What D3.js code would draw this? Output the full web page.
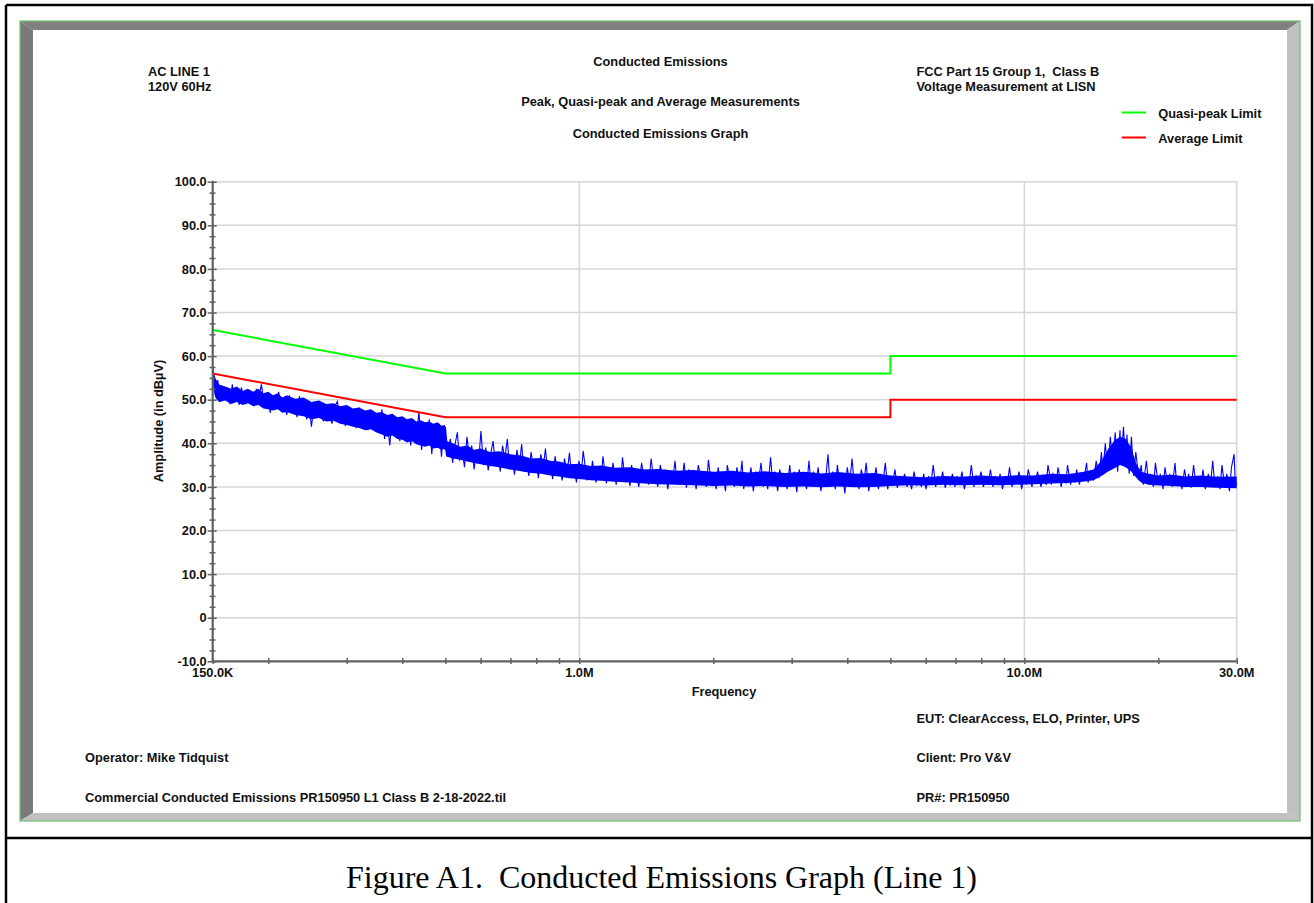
<!DOCTYPE html>
<html><head><meta charset="utf-8">
<script src="https://cdn.jsdelivr.net/npm/d3@7"></script>
<style>
html,body{margin:0;padding:0;background:#fff;}
svg{display:block;}
.lbl{font-family:"Liberation Sans",Arial,sans-serif;font-weight:bold;font-size:12.8px;fill:#111;}
</style></head><body>
<svg id="chart" width="1314" height="903"></svg>
<script>
// ---------------- data ----------------
const xTickValues = [0.15, 1, 10, 30];            // MHz
const xTickLabels = ["150.0K", "1.0M", "10.0M", "30.0M"];
const xMinorTicks = [0.2, 0.3, 0.4, 0.5, 0.6, 0.7, 0.8, 0.9, 2, 3, 4, 5, 6, 7, 8, 9, 20];
const yTickValues = [-10, 0, 10, 20, 30, 40, 50, 60, 70, 80, 90, 100];
const yTickLabels = ["-10.0", "0", "10.0", "20.0", "30.0", "40.0", "50.0", "60.0", "70.0", "80.0", "90.0", "100.0"];
const xGridValues = [1, 10, 30];

// limits (dBµV)
const limitFreq = [0.15, 0.5, 5, 5, 30];
const quasiPeakLimit = [66, 56, 56, 60, 60];
const averageLimit = [56, 46, 46, 50, 50];

// dense core of the peak scan: [MHz, low dB, high dB]
const scanCore = [
  [0.150, 54, 57.5], [0.152, 50.5, 55], [0.155, 49.5, 53.5], [0.16, 49.8, 53], [0.165, 49, 52.5],
  [0.17, 49.5, 53], [0.175, 48.8, 52], [0.18, 49.2, 52.5], [0.185, 48.5, 51.8], [0.19, 48.8, 52.5],
  [0.195, 48, 51.5], [0.20, 47.8, 51.8], [0.205, 47.5, 51], [0.21, 47.8, 51.5], [0.215, 47, 50.5],
  [0.22, 47.2, 51], [0.23, 46.5, 50.2], [0.24, 46.2, 50.5], [0.25, 45.5, 49.5], [0.26, 45.8, 49.8],
  [0.27, 45, 49], [0.28, 45.2, 49.2], [0.29, 44.5, 48.5], [0.30, 44.2, 48.8], [0.31, 43.8, 48],
  [0.32, 43.5, 48.2], [0.33, 43, 47.5], [0.34, 43.2, 47.8], [0.35, 42.5, 47], [0.36, 42, 47.2],
  [0.37, 41.5, 46.5], [0.38, 41.8, 46.8], [0.39, 41, 46], [0.40, 40.8, 46.2], [0.41, 40.2, 45.5],
  [0.42, 40.5, 45.8], [0.43, 39.8, 45], [0.44, 39.5, 45.3], [0.45, 39.2, 44.8], [0.46, 39.5, 45],
  [0.47, 38.8, 44.5], [0.48, 39, 44.8], [0.49, 38.5, 44], [0.499, 38.8, 44.2],
  [0.502, 37, 40.5], [0.52, 36.5, 40], [0.54, 36.2, 39.2], [0.56, 35.8, 39.5], [0.58, 35.5, 38.5],
  [0.60, 35.2, 38.8], [0.63, 34.8, 38], [0.66, 34.5, 38.2], [0.70, 34, 37.5], [0.74, 33.6, 37.2],
  [0.78, 33.2, 36.5], [0.82, 33, 36.6], [0.86, 32.6, 36], [0.90, 32.4, 35.8], [0.95, 32, 35.2],
  [1.0, 31.8, 35.3], [1.06, 31.5, 34.8], [1.12, 31.4, 34.9], [1.2, 31.2, 34.4], [1.3, 31, 34.5],
  [1.4, 30.8, 34], [1.5, 30.6, 34.1], [1.65, 30.5, 33.7], [1.8, 30.4, 33.9], [2.0, 30.2, 33.5],
  [2.2, 30.3, 33.7], [2.4, 30.1, 33.3], [2.6, 30.2, 33.6], [2.9, 30, 33.2], [3.2, 30.1, 33.5],
  [3.5, 29.9, 33.1], [3.8, 30.1, 33.4], [4.2, 29.9, 33], [4.6, 30, 33.2], [5.0, 30.2, 32.6],
  [5.5, 30.4, 32.4], [6.0, 30.3, 32.2], [6.6, 30.5, 32.5], [7.2, 30.4, 32.3], [8.0, 30.5, 32.6],
  [8.8, 30.4, 32.4], [9.6, 30.5, 32.7], [10.5, 30.6, 32.6], [11.5, 30.8, 33], [12.5, 30.9, 32.9],
  [13.5, 31.2, 33.4], [14.3, 31.5, 34], [14.9, 32.5, 36], [15.4, 33.5, 38.5], [15.9, 34.2, 40.5],
  [16.4, 35, 41.5], [16.9, 34.5, 41], [17.4, 33.5, 39], [17.8, 32.2, 35.5], [18.3, 31, 33.5],
  [19, 30.5, 33], [20, 30.3, 32.6], [21.5, 30.2, 32.8], [23, 30, 32.4], [25, 30, 32.6],
  [27, 29.8, 32.3], [30, 29.7, 32.4]];

// peak scan trace 150 kHz - 500 kHz: [MHz, dB]
const scanLow = [
  [0.150, 57.8], [0.152, 51], [0.154, 54.5], [0.156, 49.5], [0.158, 53], [0.160, 50.5], [0.162, 52.5],
  [0.164, 49], [0.166, 53.5], [0.168, 50], [0.170, 51.5], [0.172, 48.8], [0.174, 52.8], [0.176, 50.5],
  [0.178, 49.2], [0.180, 52], [0.182, 49.5], [0.184, 51.5], [0.186, 48.5], [0.188, 52.5], [0.190, 50],
  [0.193, 53.5], [0.196, 48.5], [0.199, 51.5], [0.202, 47], [0.205, 50.5], [0.208, 48], [0.211, 51.8],
  [0.214, 47.5], [0.217, 50], [0.220, 46.5], [0.223, 51], [0.226, 48], [0.229, 49.5], [0.232, 46],
  [0.235, 50.8], [0.238, 47.5], [0.241, 49], [0.244, 45.5], [0.247, 48.5], [0.250, 43.8], [0.254, 49.5],
  [0.258, 46], [0.262, 48.5], [0.266, 45], [0.270, 49], [0.274, 46.5], [0.278, 44.5], [0.282, 48.5],
  [0.286, 49.6], [0.290, 45], [0.294, 47.5], [0.298, 44], [0.302, 48], [0.306, 45.5], [0.310, 47],
  [0.315, 43.5], [0.320, 48.2], [0.325, 44.5], [0.330, 46.5], [0.335, 43], [0.340, 47.5], [0.345, 44],
  [0.350, 46], [0.355, 42.5], [0.360, 47.8], [0.365, 41], [0.370, 45.5], [0.375, 39.5], [0.380, 46.5],
  [0.385, 42], [0.390, 45], [0.395, 40.5], [0.400, 46], [0.406, 42], [0.412, 44.5], [0.418, 39.5],
  [0.424, 45.5], [0.430, 41], [0.436, 47.2], [0.442, 38.5], [0.448, 44], [0.454, 40], [0.460, 45.5],
  [0.466, 37.5], [0.472, 43.5], [0.478, 39], [0.484, 44.5], [0.490, 36.9], [0.495, 43], [0.499, 38.5]];

// peak scan trace 500 kHz - 30 MHz: [MHz, dB]
const scanHigh = [
  [0.50, 43.8], [0.506, 38], [0.513, 41], [0.519, 35.5], [0.525, 39.5], [0.532, 42.5], [0.538, 36],
  [0.545, 38.5], [0.552, 34.5], [0.559, 41.5], [0.566, 37], [0.573, 39.5], [0.580, 34], [0.587, 38],
  [0.594, 36], [0.601, 42.8], [0.609, 35], [0.616, 39], [0.624, 33.8], [0.632, 37.5], [0.640, 40.5],
  [0.648, 35], [0.656, 38], [0.664, 33.5], [0.672, 39.5], [0.680, 36.5], [0.689, 41], [0.697, 34],
  [0.706, 37], [0.715, 32.8], [0.724, 38.5], [0.733, 35], [0.742, 39.8], [0.751, 33.5], [0.760, 36.5],
  [0.770, 32.5], [0.779, 38], [0.789, 34.5], [0.799, 36.5], [0.809, 32], [0.819, 37.5], [0.829, 34],
  [0.839, 38.8], [0.850, 33], [0.860, 35.5], [0.871, 31.8], [0.882, 37], [0.893, 33.5], [0.904, 35],
  [0.915, 31.5], [0.926, 36.5], [0.938, 33], [0.950, 37.8], [0.961, 32.5], [0.973, 34.5], [0.985, 31],
  [0.998, 36], [1.01, 33], [1.02, 38.3], [1.04, 31.5], [1.05, 34.5], [1.06, 32], [1.07, 36], [1.09, 31],
  [1.10, 34], [1.12, 32.5], [1.13, 37], [1.15, 30.8], [1.16, 34], [1.18, 32], [1.19, 35.5], [1.21, 30.5],
  [1.22, 33.5], [1.24, 31.5], [1.25, 36.8], [1.27, 31], [1.28, 34], [1.30, 30.2], [1.31, 35], [1.33, 32],
  [1.34, 33.5], [1.36, 30], [1.38, 35.5], [1.40, 31.5], [1.41, 34], [1.43, 30.5], [1.45, 36.5], [1.47, 31],
  [1.48, 33.5], [1.50, 30], [1.52, 35], [1.54, 32], [1.56, 34], [1.58, 29.5], [1.60, 33.5], [1.62, 31],
  [1.64, 36], [1.66, 30.5], [1.68, 33], [1.70, 31.5], [1.72, 35.5], [1.74, 29.8], [1.76, 34], [1.79, 31],
  [1.81, 33], [1.83, 29.5], [1.85, 35], [1.88, 31.5], [1.90, 33.5], [1.93, 30], [1.95, 36.2], [1.98, 30.5],
  [2.00, 33], [2.03, 29.5], [2.05, 34.5], [2.08, 31], [2.10, 33.5], [2.13, 29], [2.15, 35], [2.18, 31.5],
  [2.20, 33], [2.23, 30], [2.26, 34.5], [2.29, 30.5], [2.32, 36], [2.34, 29.5], [2.37, 33], [2.40, 31],
  [2.43, 34.5], [2.46, 29], [2.49, 33.5], [2.52, 30.5], [2.56, 35.5], [2.59, 30], [2.62, 33], [2.65, 29.5],
  [2.69, 36.8], [2.72, 30.5], [2.75, 33.5], [2.79, 29], [2.82, 34], [2.86, 31], [2.89, 33], [2.93, 29.5],
  [2.97, 35], [3.00, 30.5], [3.04, 33.5], [3.08, 28.8], [3.12, 34], [3.16, 31], [3.20, 32.5], [3.24, 29.5],
  [3.28, 36], [3.32, 30], [3.36, 33.5], [3.40, 30.5], [3.44, 34.5], [3.49, 29], [3.53, 33], [3.57, 31],
  [3.62, 37.5], [3.66, 30], [3.71, 33.5], [3.76, 29.5], [3.80, 35], [3.85, 30.5], [3.90, 33], [3.95, 28.5],
  [4.00, 34.5], [4.05, 31], [4.10, 36.5], [4.15, 30], [4.20, 33], [4.25, 29.5], [4.30, 34], [4.36, 31],
  [4.41, 35.5], [4.47, 29], [4.52, 33], [4.58, 30.5], [4.64, 34.5], [4.70, 29.5], [4.75, 33], [4.81, 31],
  [4.87, 35.5], [4.93, 29.5], [4.99, 32.5], [5.05, 30.5], [5.12, 34], [5.18, 29.8], [5.25, 32.5], [5.31, 30.5],
  [5.38, 33], [5.45, 30], [5.51, 32], [5.58, 29.5], [5.65, 33.5], [5.72, 30.5], [5.79, 32], [5.87, 30],
  [5.94, 33], [6.01, 29.5], [6.09, 32.5], [6.16, 30.5], [6.24, 35], [6.32, 30], [6.39, 32.5], [6.47, 30.5],
  [6.55, 33.5], [6.64, 29.8], [6.72, 32], [6.81, 30.5], [6.89, 33], [6.98, 30], [7.06, 32.5], [7.15, 30.5],
  [7.24, 33.5], [7.33, 29.5], [7.42, 32], [7.51, 30.5], [7.60, 35], [7.70, 30], [7.79, 32.5], [7.89, 31],
  [7.99, 33.5], [8.09, 30], [8.19, 32], [8.29, 30.5], [8.39, 34], [8.50, 30], [8.60, 32.5], [8.71, 30.5],
  [8.82, 33], [8.93, 29.5], [9.04, 32.5], [9.15, 30.5], [9.26, 34.5], [9.38, 30], [9.50, 32], [9.61, 31],
  [9.73, 33.5], [9.86, 29.5], [9.98, 32.5], [10.1, 30.5], [10.2, 34], [10.4, 30], [10.5, 32.5], [10.6, 31],
  [10.7, 33.5], [10.9, 30], [11.0, 32.5], [11.2, 30.5], [11.3, 35], [11.5, 30.5], [11.6, 33], [11.8, 31],
  [11.9, 34.5], [12.1, 30], [12.2, 32.5], [12.4, 31], [12.5, 35], [12.7, 30.5], [12.8, 33], [13.0, 31],
  [13.1, 34], [13.3, 30.5], [13.4, 33], [13.6, 31.5], [13.8, 35.5], [13.9, 31], [14.1, 33.5], [14.3, 31.5],
  [14.5, 36], [14.7, 32], [14.9, 38], [15.0, 33], [15.2, 40], [15.4, 34], [15.6, 41.5], [15.8, 35],
  [16.0, 42.5], [16.2, 33.5], [16.4, 43], [16.5, 36], [16.7, 43.8], [16.9, 34.5], [17.0, 42], [17.2, 33],
  [17.4, 41.5], [17.6, 32.5], [17.8, 38], [18.1, 31.5], [18.3, 35], [18.5, 30.5], [18.8, 36], [19.0, 31],
  [19.2, 33], [19.5, 30], [19.7, 35.5], [20.0, 30.5], [20.2, 33], [20.5, 29.5], [20.7, 34.5], [21.0, 30.5],
  [21.2, 33], [21.5, 30], [21.8, 35.5], [22.0, 30.5], [22.3, 32.5], [22.6, 29.5], [22.9, 34], [23.2, 30.5],
  [23.4, 33], [23.7, 29.8], [24.0, 35], [24.3, 30.5], [24.6, 32.5], [24.9, 30], [25.2, 34], [25.5, 29.5],
  [25.9, 33], [26.2, 30.5], [26.5, 36], [26.8, 30], [27.2, 32.5], [27.5, 29.5], [27.8, 35], [28.2, 30],
  [28.5, 33], [28.9, 29], [29.2, 34.5], [29.6, 37.5], [29.8, 30], [30.0, 31]];

// header / footer texts
const headerLeft = ["AC LINE 1", "120V 60Hz"];
const headerRight = ["FCC Part 15 Group 1,  Class B", "Voltage Measurement at LISN"];
const titles = ["Conducted Emissions", "Peak, Quasi-peak and Average Measurements", "Conducted Emissions Graph"];
const legendItems = [{name: "Quasi-peak Limit", color: "#00ff00"}, {name: "Average Limit", color: "#ff0000"}];
const footerLeft = ["Operator: Mike Tidquist", "Commercial Conducted Emissions PR150950 L1 Class B 2-18-2022.til"];
const footerRight = ["EUT: ClearAccess, ELO, Printer, UPS", "Client: Pro V&V", "PR#: PR150950"];
const caption = "Figure A1.  Conducted Emissions Graph (Line 1)";

// ---------------- drawing ----------------
const svg = d3.select("#chart");

// outer document frame
svg.append("rect").attr("x", 0).attr("y", 0).attr("width", 1314).attr("height", 903).attr("fill", "#fff");
svg.append("path").attr("d", "M6,5 H1312 V903 M6,5 V903 M6,838 H1312")
  .attr("fill", "none").attr("stroke", "#000").attr("stroke-width", 2.5);

// bevel frame
const L = 20, T = 21, R = 1300, B = 821, li = 33, ti = 30, ri = 1287, bi = 813;
svg.append("polygon").attr("points", `${L},${T} ${R},${T} ${ri},${ti} ${li},${ti}`).attr("fill", "#808080");
svg.append("polygon").attr("points", `${L},${T} ${li},${ti} ${li},${bi} ${L},${B}`).attr("fill", "#7a7a7a");
svg.append("polygon").attr("points", `${R},${T} ${R},${B} ${ri},${bi} ${ri},${ti}`).attr("fill", "#c0c0c0");
svg.append("polygon").attr("points", `${L},${B} ${R},${B} ${ri},${bi} ${li},${bi}`).attr("fill", "#c0c0c0");
svg.append("rect").attr("x", li).attr("y", ti).attr("width", ri - li).attr("height", bi - ti).attr("fill", "#fff");
svg.append("rect").attr("x", L).attr("y", T).attr("width", R - L).attr("height", B - T)
  .attr("fill", "none").attr("stroke", "#6cc070").attr("stroke-width", 1.2);

// scales
const x = d3.scaleLog().domain([0.15, 30]).range([212.7, 1236.7]);
const y = d3.scaleLinear().domain([-10, 100]).range([661.3, 181.7]);

// grid
const g = svg.append("g");
g.selectAll("line.hg").data(yTickValues.filter(v => v > -10)).join("line")
  .attr("x1", x(0.15)).attr("x2", x(30)).attr("y1", d => y(d)).attr("y2", d => y(d))
  .attr("stroke", "#d6d6d6").attr("stroke-width", 1.5);
g.selectAll("line.vg").data(xGridValues).join("line")
  .attr("x1", d => x(d)).attr("x2", d => x(d)).attr("y1", y(100)).attr("y2", y(-10))
  .attr("stroke", "#d6d6d6").attr("stroke-width", 1.5);

// peak scan
svg.append("path").datum(scanCore)
  .attr("d", d3.area().x(d => x(d[0])).y0(d => y(d[1])).y1(d => y(d[2])))
  .attr("fill", "#0000ff");
const traceLine = d3.line().x(d => x(d[0])).y(d => y(d[1]));
svg.append("path").datum(scanLow.concat(scanHigh))
  .attr("d", traceLine)
  .attr("fill", "none").attr("stroke", "#0000ff").attr("stroke-width", 1.1);

// limits
const limLine = d3.line().x(d => x(d[0])).y(d => y(d[1]));
svg.append("path").datum(limitFreq.map((f, i) => [f, quasiPeakLimit[i]]))
  .attr("d", limLine).attr("fill", "none").attr("stroke", "#00ff00").attr("stroke-width", 2);
svg.append("path").datum(limitFreq.map((f, i) => [f, averageLimit[i]]))
  .attr("d", limLine).attr("fill", "none").attr("stroke", "#ff0000").attr("stroke-width", 2);

// axes
const axisColor = "#606060";
const yAxis = svg.append("g").attr("transform", "translate(216.7,0)")
  .call(d3.axisLeft(y).tickValues(yTickValues).tickSize(9).tickPadding(1)
    .tickFormat((d, i) => yTickLabels[i]));
yAxis.select(".domain").remove();
yAxis.selectAll("line").attr("stroke", axisColor).attr("stroke-width", 1.5);
yAxis.selectAll("text").attr("class", "lbl");
yAxis.attr("font-size", null).attr("font-family", null);

const yMinor = svg.append("g").attr("transform", "translate(215.5,0)")
  .call(d3.axisLeft(y).tickValues(d3.range(-10, 100.1, 2.5).filter(v => v % 10 !== 0)).tickSize(6).tickFormat(""));
yMinor.select(".domain").remove();
yMinor.selectAll("line").attr("stroke", axisColor).attr("stroke-width", 1.5);

const xAxis = svg.append("g").attr("transform", "translate(0,658)")
  .call(d3.axisBottom(x).tickValues(xTickValues.concat(xMinorTicks)).tickSize(6).tickFormat(""));
xAxis.select(".domain").remove();
xAxis.selectAll("line").attr("stroke", axisColor).attr("stroke-width", 1.5);

svg.append("line").attr("x1", x(0.15)).attr("x2", x(0.15)).attr("y1", y(100) - 1).attr("y2", y(-10) + 1)
  .attr("stroke", axisColor).attr("stroke-width", 2.2);
svg.append("line").attr("x1", x(0.15) - 1).attr("x2", x(30)).attr("y1", y(-10)).attr("y2", y(-10))
  .attr("stroke", axisColor).attr("stroke-width", 2.2);

svg.selectAll("text.xl").data(xTickValues).join("text").attr("class", "lbl")
  .attr("x", d => x(d)).attr("y", 677).attr("text-anchor", "middle").text((d, i) => xTickLabels[i]);

// axis titles
svg.append("text").attr("class", "lbl").attr("x", 724).attr("y", 695.5).attr("text-anchor", "middle").text("Frequency");
svg.append("text").attr("class", "lbl").attr("transform", "translate(158,421) rotate(-90)")
  .attr("text-anchor", "middle").attr("dominant-baseline", "central").text("Amplitude (in dBµV)");

// header
svg.selectAll("text.hl").data(headerLeft).join("text").attr("class", "lbl")
  .attr("x", 148).attr("y", (d, i) => 76 + i * 15.3).text(d => d);
svg.selectAll("text.hr").data(headerRight).join("text").attr("class", "lbl")
  .attr("x", 916.5).attr("y", (d, i) => 76 + i * 15).attr("xml:space", "preserve").style("white-space", "pre").text(d => d);
const titleY = [66, 105.5, 137.5];
svg.selectAll("text.tt").data(titles).join("text").attr("class", "lbl")
  .attr("x", 660.5).attr("y", (d, i) => titleY[i]).attr("text-anchor", "middle").text(d => d);

// legend
const lg = svg.selectAll("g.lg").data(legendItems).join("g").attr("transform", (d, i) => `translate(0,${112.5 + i * 25})`);
lg.append("line").attr("x1", 1121.7).attr("x2", 1146).attr("y1", 0).attr("y2", 0)
  .attr("stroke", d => d.color).attr("stroke-width", 2);
lg.append("text").attr("class", "lbl").attr("x", 1158.3).attr("y", 5.5).text(d => d.name);

// footer
const footY = [762, 802];
svg.selectAll("text.fl").data(footerLeft).join("text").attr("class", "lbl")
  .attr("x", 85).attr("y", (d, i) => footY[i]).text(d => d);
const footRY = [722.5, 762, 802];
svg.selectAll("text.fr").data(footerRight).join("text").attr("class", "lbl")
  .attr("x", 916.5).attr("y", (d, i) => footRY[i]).text(d => d);

// caption
svg.append("text").attr("x", 661.5).attr("y", 888).attr("text-anchor", "middle")
  .attr("xml:space", "preserve").style("white-space", "pre")
  .attr("font-family", "'Liberation Serif','Times New Roman',serif").attr("font-size", 32)
  .attr("fill", "#000").text(caption);
</script>
</body></html>
